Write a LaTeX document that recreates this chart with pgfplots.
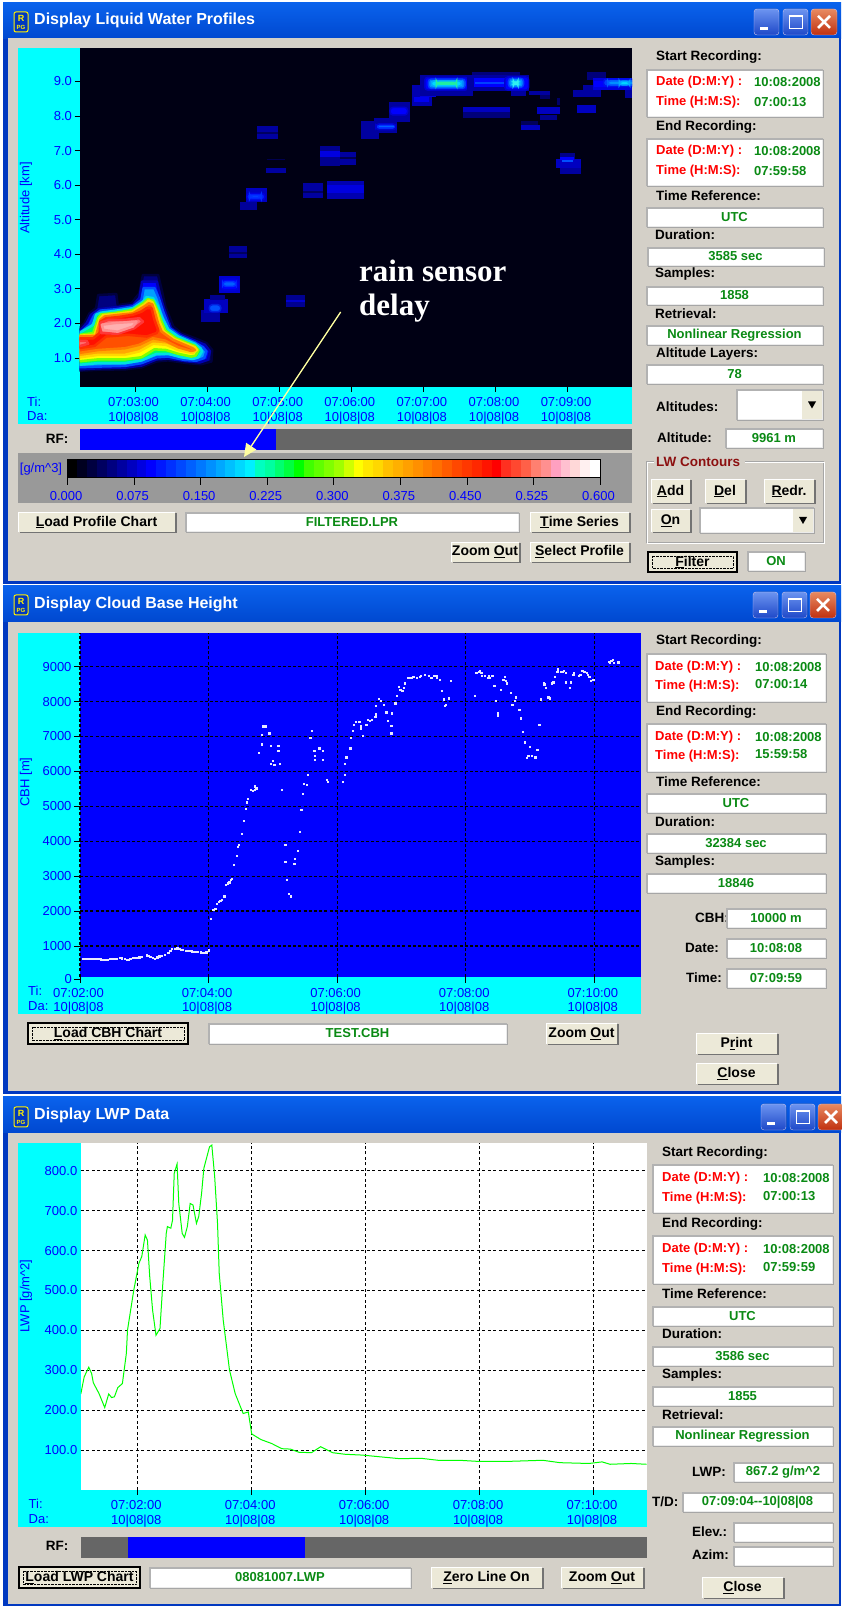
\documentclass[border=0pt]{standalone}
\usepackage{fontspec}
\setmainfont{Liberation Sans}
\newfontfamily\annfont{Liberation Serif}
\usepackage{xcolor}
\usepackage{pgfplots}
\pgfplotsset{compat=1.18}
\usetikzlibrary{arrows.meta}

\definecolor{gui}{HTML}{D4D0C8}
\definecolor{tblue}{HTML}{0000FF}
\definecolor{panel}{HTML}{00FFFF}
\definecolor{lblgreen}{HTML}{0A8A14}
\definecolor{plotbg}{HTML}{000014}
\definecolor{btn}{HTML}{ECE9D8}
\definecolor{lwline}{HTML}{00FF00}
\definecolor{ttop}{HTML}{0A62EC}
\definecolor{tbot}{HTML}{0048D0}
\definecolor{tedge}{HTML}{0038C0}
\definecolor{tbl}{HTML}{6C94F0}
\definecolor{tbd}{HTML}{1E48C8}
\definecolor{tcl}{HTML}{E88A60}
\definecolor{tcd}{HTML}{C03010}
\definecolor{arrowy}{HTML}{FFFFA0}
\definecolor{darkred}{HTML}{8C1010}
\definecolor{dotc}{HTML}{E8E8FF}

\newcommand{\fa}{\fontsize{13}{14.5}\selectfont}
\newcommand{\fb}{\fontsize{13.5}{15}\selectfont\bfseries}
\newcommand{\fc}{\fontsize{13}{15}\selectfont\bfseries}
\newcommand{\fd}{\fontsize{14}{16}\selectfont\bfseries}

% gui pieces, all in pixel coordinates
\newcommand{\hd}[3]{\node[anchor=west,inner sep=0pt,font=\fb] at (#1,#2) {#3};}
\newcommand{\red}[3]{\node[anchor=west,inner sep=0pt,font=\fc,text=red] at (#1,#2) {#3};}
\newcommand{\grn}[3]{\node[anchor=west,inner sep=0pt,font=\fc,text=lblgreen] at (#1,#2) {#3};}
\newcommand{\field}[5]{%
  \fill[black!35] (#1+1,#2+1) rectangle (#3+1,#4+1);
  \fill[black!8] (#1,#2) rectangle (#3,#4);
  \fill[black!30] (#1,#2) rectangle (#3,#2+2);
  \fill[black!30] (#1,#2) rectangle (#1+2,#4);
  \fill[white] (#1+2,#2+2) rectangle (#3-1,#4-1);
  \node[font=\fc,text=lblgreen,inner sep=0pt] at ({(#1+#3)/2},{(#2+#4)/2}) {#5};}
\newcommand{\button}[5]{%
  \fill[black!55] (#1+1.5,#2+1.5) rectangle (#3+1.5,#4+1.5);
  \fill[btn] (#1,#2) rectangle (#3,#4);
  \draw[white] (#1,#4) -- (#1,#2) -- (#3,#2);
  \node[font=\fd,inner sep=0pt] at ({(#1+#3)/2},{(#2+#4)/2}) {#5};}
\newcommand{\fbutton}[5]{%
  \fill[btn] (#1,#2) rectangle (#3,#4);
  \draw[black,line width=1.5pt] (#1,#2) rectangle (#3,#4);
  \draw[black,densely dotted] (#1+4,#2+4) rectangle (#3-4,#4-4);
  \node[font=\fd,inner sep=0pt] at ({(#1+#3)/2},{(#2+#4)/2}) {#5};}
\newcommand{\combo}[4]{%
  \field{#1}{#2}{#3}{#4}{}
  \fill[btn] (#3-21,#2+2) rectangle (#3-1,#4-1);
  \fill[black] (#3-15,{(#2+#4)/2-3}) -- (#3-7,{(#2+#4)/2-3}) -- (#3-11,{(#2+#4)/2+4}) -- cycle;}
\newcommand{\icon}[2]{%
  \fill[rounded corners=2pt,tedge,draw=yellow,line width=1pt] (#1,#2) rectangle (#1+14,#2+20);
  \node[text=yellow,font=\fontsize{9}{9}\selectfont\bfseries,inner sep=0pt] at (#1+7,#2+6.5) {R};
  \node[text=yellow,font=\fontsize{6}{6}\selectfont\bfseries,inner sep=0pt] at (#1+7,#2+15.5) {PG};}
\newcommand{\tbtns}[2]{%
  \fill[rounded corners=3pt,top color=tbl,bottom color=tbd,draw=white!80!blue] (#1,#2) rectangle (#1+25,#2+26);
  \fill[white] (#1+6,#2+18) rectangle (#1+14,#2+21);
  \fill[rounded corners=3pt,top color=tbl,bottom color=tbd,draw=white!80!blue] (#1+29,#2) rectangle (#1+54,#2+26);
  \draw[white,line width=1pt] (#1+35,#2+7) rectangle (#1+48,#2+20);
  \draw[white,line width=2pt] (#1+35,#2+7) -- (#1+48,#2+7);
  \fill[rounded corners=3pt,top color=tcl,bottom color=tcd,draw=white!80!blue] (#1+57,#2) rectangle (#1+83,#2+26);
  \draw[white,line width=2.5pt] (#1+64,#2+7) -- (#1+76,#2+19) (#1+76,#2+7) -- (#1+64,#2+19);}
\newcommand{\win}[4]{% y0 y1 titlebottom title
  \fill[tedge] (3,#1) rectangle (841,#2);
  \fill[top color=ttop,bottom color=tbot] (3,#1) rectangle (841,#3);
  \fill[gui] (8,#3) rectangle (839,#2-2.5);
  \node[anchor=west,text=white,inner sep=0pt,font=\fontsize{16}{18}\selectfont\bfseries] at (34,{(#1+#3)/2}) {#4};}

% values in data units, one rectangle or outline per call
\newcommand{\defhex}[1]{\globalcolorstrue\definecolor{c#1}{HTML}{#1}\globalcolorsfalse}
\newcommand{\cell}[5]{\defhex{#1}\addplot[forget plot,draw=none,fill=c#1] coordinates {(#2,#4)(#3,#4)(#3,#5)(#2,#5)} -- cycle;}
\newcommand{\rcell}[6]{\defhex{#1}\defhex{#2}\addplot[forget plot,draw=c#2,line width=1.5pt,rounded corners=3pt,fill=c#1] coordinates {(#3,#5)(#4,#5)(#4,#6)(#3,#6)} -- cycle;}
\newcommand{\blob}[3]{\defhex{#1}\defhex{#2}\addplot[forget plot,draw=c#2,line width=2.5pt,line join=round,fill=c#1] coordinates {#3} -- cycle;}
\newcommand{\cb}[3]{\cell{#1}{#2}{#3}{0}{1}}

\pgfplotsset{ui/.style={
  scale only axis, anchor=south west,
  axis line style={draw=none},
  tick style={black,line width=0.8pt},
  major tick length=5pt, tick align=outside,
  xtick pos=bottom, ytick pos=left,
  tick label style={font=\fa,text=tblue,/pgf/number format/assume math mode=true},
  xticklabel style={align=center,yshift=-2pt,xshift=-1.5pt},
  yticklabel style={xshift=1pt},
}}

\begin{document}
\begin{tikzpicture}[x=1pt,y=1pt]
\useasboundingbox (0,0) rectangle (841,1606);
\fill[white] (0,0) rectangle (841,1606);

\begin{scope}[x=1pt,y=-1pt,yshift=1606pt]
\win{3}{584}{38.5}{Display Liquid Water Profiles}
\win{586}{1094}{622}{Display Cloud Base Height}
\win{1097}{1606.5}{1133}{Display LWP Data}
\icon{14}{12}\icon{14}{595}\icon{14}{1107}
\tbtns{754}{9}\tbtns{753}{592}\tbtns{761}{1104}

\fill[panel] (18,48.3) rectangle (632,424);
\fill[panel] (18,632.7) rectangle (640.6,1014);
\fill[panel] (18,1143.3) rectangle (646.5,1527.3);
\fill[black!40] (18,453) rectangle (632,503);

% window 1 right panel
\hd{656}{57}{Start Recording:}
\field{646}{69}{823}{117}{}
\red{656}{82}{Date (D:M:Y) :}\grn{754}{82}{10:08:2008}
\red{656}{102}{Time (H:M:S):}\grn{754}{102}{07:00:13}
\hd{656}{127}{End Recording:}
\field{646}{138}{823}{186}{}
\red{656}{151}{Date (D:M:Y) :}\grn{754}{151}{10:08:2008}
\red{656}{171}{Time (H:M:S):}\grn{754}{171}{07:59:58}
\hd{656}{196}{Time Reference:}\field{646}{207}{823}{227}{UTC}
\hd{655}{235}{Duration:}\field{647}{247}{824}{266}{3585 sec}
\hd{655}{274}{Samples:}\field{646}{286}{823}{305}{1858}
\hd{655}{314}{Retrieval:}\field{646}{325}{823}{345}{Nonlinear Regression}
\hd{656}{354}{Altitude Layers:}\field{646}{364}{823}{384}{78}
\hd{656}{407}{Altitudes:}\combo{736}{389}{823}{420}
\hd{657}{438}{Altitude:}\field{725}{428}{823}{448}{9961 m}
\draw[black!35] (646.5,461) rectangle (823.5,542);
\draw[white] (647.5,462) rectangle (824.5,543);
\fill[gui] (654,455) rectangle (745,468);
\node[anchor=west,inner sep=0pt,font=\fb,text=darkred] at (656,462) {LW Contours};
\button{651}{479}{690}{503}{\underline{A}dd}
\button{705}{479}{745}{503}{\underline{D}el}
\button{764}{479}{814}{503}{\underline{R}edr.}
\button{651}{509}{690}{532}{\underline{O}n}
\combo{699}{507}{814}{533}
\fbutton{648}{552}{737}{572}{\underline{F}ilter}
\field{747}{551}{805}{571}{ON}
% window 1 lower row
\node[font=\fb,inner sep=0pt] at (57,439) {RF:};
\node[font=\fa,text=tblue,inner sep=0pt] at (41,469) {[g/m\^{}3]};
\button{18}{512}{175}{532}{\underline{L}oad Profile Chart}
\field{185}{512}{519}{532}{FILTERED.LPR}
\button{530}{512}{629}{532}{\underline{T}ime Series}
\button{451}{542}{519}{562}{Zoom \underline{O}ut}
\button{530}{542}{629}{562}{\underline{S}elect Profile}

% window 2 right panel
\hd{656}{641}{Start Recording:}
\field{646}{653}{826}{702}{}
\red{655}{667}{Date (D:M:Y) :}\grn{755}{667}{10:08:2008}
\red{655}{686}{Time (H:M:S):}\grn{755}{684}{07:00:14}
\hd{656}{712}{End Recording:}
\field{646}{723}{826}{772}{}
\red{655}{737}{Date (D:M:Y) :}\grn{755}{737}{10:08:2008}
\red{655}{756}{Time (H:M:S):}\grn{755}{754}{15:59:58}
\hd{656}{782}{Time Reference:}\field{646}{793}{826}{813}{UTC}
\hd{655}{822}{Duration:}\field{646}{833}{826}{853}{32384 sec}
\hd{655}{862}{Samples:}\field{646}{873}{826}{893}{18846}
\hd{695}{918}{CBH:}\field{726}{908}{826}{928}{10000 m}
\hd{685}{948}{Date:}\field{726}{938}{826}{958}{10:08:08}
\hd{686}{978}{Time:}\field{726}{968}{826}{988}{07:09:59}
\button{696}{1033}{777}{1054}{P\underline{r}int}
\button{696}{1063}{777}{1084}{\underline{C}lose}
\fbutton{28}{1023}{188}{1044}{\underline{L}oad CBH Chart}
\field{208}{1023}{507}{1044}{TEST.CBH}
\button{546}{1023}{617}{1044}{Zoom \underline{O}ut}

% window 3 right panel
\hd{662}{1153}{Start Recording:}
\field{652}{1164}{833}{1213}{}
\red{662}{1178}{Date (D:M:Y) :}\grn{763}{1178}{10:08:2008}
\red{662}{1198}{Time (H:M:S):}\grn{763}{1196}{07:00:13}
\hd{662}{1224}{End Recording:}
\field{652}{1235}{833}{1284}{}
\red{662}{1249}{Date (D:M:Y) :}\grn{763}{1249}{10:08:2008}
\red{662}{1269}{Time (H:M:S):}\grn{763}{1267}{07:59:59}
\hd{662}{1294}{Time Reference:}\field{652}{1306}{833}{1326}{UTC}
\hd{662}{1334}{Duration:}\field{652}{1346}{833}{1366}{3586 sec}
\hd{662}{1375}{Samples:}\field{652}{1386}{833}{1406}{1855}
\hd{662}{1415}{Retrieval:}\field{652}{1426}{833}{1446}{Nonlinear Regression}
\hd{692}{1472}{LWP:}\field{733}{1462}{833}{1482}{867.2 g/m\^{}2}
\hd{652}{1502}{T/D:}\field{682}{1492}{833}{1512}{07:09:04-{}-10|08|08}
\hd{692}{1532}{Elev.:}\field{733}{1522}{833}{1542}{}
\hd{692}{1555}{Azim:}\field{733}{1546}{833}{1566}{}
\button{702}{1577}{783}{1598}{\underline{C}lose}
\node[font=\fb,inner sep=0pt] at (57,1546) {RF:};
\fbutton{19}{1567}{140}{1588}{\underline{L}oad LWP Chart}
\field{149}{1567}{411}{1588}{08081007.LWP}
\button{431}{1567}{542}{1588}{\underline{Z}ero Line On}
\button{561}{1567}{643}{1588}{Zoom \underline{O}ut}
\end{scope}

% liquid water profile heat map
\begin{axis}[ui, at={(79.5pt,1219pt)}, width=552.5pt, height=338.7pt,
  xmin=2.23, xmax=9.894, ymin=0.16, ymax=9.96,
  axis background/.style={fill=plotbg},
  xtick={3,4,5,6,7,8,9},
  xticklabels={{07:03:00\\10|08|08},{07:04:00\\10|08|08},{07:05:00\\10|08|08},{07:06:00\\10|08|08},{07:07:00\\10|08|08},{07:08:00\\10|08|08},{07:09:00\\10|08|08}},
  ytick={1,2,3,4,5,6,7,8,9},
  yticklabel style={/pgf/number format/fixed,/pgf/number format/fixed zerofill,/pgf/number format/precision=1},
]
\blob{000080}{000040}{(2.21,1.81)(2.30,2.01)(2.37,2.29)(2.46,2.44)(2.49,2.82)(2.74,2.85)(2.76,2.53)(2.95,2.58)(3.06,2.87)(3.11,3.40)(3.32,3.40)(3.37,2.97)(3.42,2.49)(3.53,1.91)(3.64,1.72)(3.83,1.57)(3.99,1.43)(4.07,1.23)(4.06,0.90)(3.92,0.82)(3.73,0.85)(3.46,0.93)(3.30,0.90)(3.09,0.73)(2.86,0.67)(2.49,0.66)(2.21,0.63)}
\blob{0000FF}{0000B0}{(2.21,1.72)(2.33,2.01)(2.39,2.25)(2.50,2.41)(2.74,2.47)(2.97,2.53)(3.06,2.73)(3.10,3.21)(3.30,3.21)(3.34,2.87)(3.40,2.44)(3.50,1.86)(3.64,1.67)(3.83,1.50)(3.97,1.38)(4.04,1.19)(4.01,0.95)(3.90,0.87)(3.73,0.90)(3.46,0.98)(3.30,0.96)(3.09,0.78)(2.86,0.72)(2.49,0.70)(2.21,0.67)}
\blob{00A0FF}{0050FF}{(2.21,1.69)(2.37,1.96)(2.44,2.25)(2.52,2.37)(2.74,2.41)(2.97,2.49)(3.09,2.68)(3.12,3.02)(3.27,3.02)(3.33,2.73)(3.39,2.34)(3.48,1.86)(3.62,1.64)(3.83,1.45)(3.94,1.31)(3.99,1.19)(3.96,1.00)(3.85,0.92)(3.69,0.94)(3.46,1.04)(3.30,1.02)(3.09,0.85)(2.86,0.77)(2.49,0.75)(2.21,0.73)}
\blob{00FF60}{00E0E0}{(2.21,1.70)(2.42,1.96)(2.46,2.25)(2.53,2.31)(2.74,2.37)(2.97,2.44)(3.11,2.63)(3.16,2.76)(3.25,2.73)(3.32,2.49)(3.37,2.20)(3.46,1.83)(3.60,1.62)(3.83,1.41)(3.91,1.28)(3.93,1.19)(3.88,1.02)(3.80,0.97)(3.64,1.02)(3.46,1.12)(3.30,1.12)(3.09,0.93)(2.86,0.85)(2.49,0.85)(2.21,0.80)}
\blob{FFFF00}{80FF00}{(2.21,1.66)(2.42,1.72)(2.49,2.15)(2.53,2.26)(2.74,2.31)(2.97,2.39)(3.11,2.58)(3.18,2.70)(3.25,2.66)(3.31,2.39)(3.36,2.10)(3.42,1.79)(3.57,1.57)(3.83,1.35)(3.88,1.23)(3.84,1.07)(3.78,1.04)(3.60,1.12)(3.43,1.23)(3.27,1.25)(3.09,1.02)(2.86,0.96)(2.49,0.96)(2.21,0.90)}
\blob{FFA800}{FFD800}{(2.21,1.64)(2.44,1.67)(2.51,2.12)(2.56,2.24)(2.74,2.27)(2.97,2.34)(3.12,2.53)(3.19,2.66)(3.24,2.61)(3.30,2.34)(3.34,2.05)(3.40,1.76)(3.55,1.54)(3.83,1.31)(3.86,1.23)(3.80,1.14)(3.60,1.23)(3.43,1.38)(3.25,1.41)(3.06,1.19)(2.86,1.09)(2.49,1.09)(2.21,1.01)}
\blob{FF5000}{FF7C00}{(2.21,1.62)(2.46,1.64)(2.52,2.10)(2.58,2.20)(2.74,2.24)(2.97,2.29)(3.13,2.49)(3.19,2.58)(3.24,2.55)(3.28,2.29)(3.32,2.00)(3.37,1.76)(3.53,1.52)(3.80,1.28)(3.83,1.23)(3.78,1.20)(3.60,1.31)(3.42,1.50)(3.25,1.57)(3.06,1.38)(2.86,1.28)(2.49,1.23)(2.21,1.14)}
\blob{FF1000}{FF3000}{(2.21,1.57)(2.42,1.57)(2.51,1.72)(2.52,2.05)(2.60,2.15)(2.76,2.18)(2.97,2.25)(3.09,2.34)(3.16,2.44)(3.23,2.44)(3.27,2.10)(3.32,1.81)(3.30,1.72)(3.16,1.62)(2.90,1.67)(2.60,1.62)(2.44,1.35)(2.21,1.28)}
\blob{FF7070}{FF3838}{(2.52,2.02)(2.63,2.10)(2.86,2.10)(3.06,2.15)(3.11,2.05)(2.99,1.86)(2.76,1.70)(2.53,1.72)}
\blob{FF7070}{FF3838}{(2.21,1.50)(2.33,1.49)(2.35,1.41)(2.21,1.33)}
\blob{FFB0B0}{FF9090}{(2.54,1.96)(2.72,2.01)(3.02,2.05)(2.97,1.91)(2.76,1.76)(2.56,1.81)}
% separate cloud layers
\cell{0000A0}{3.91}{4.18}{2.05}{2.39}
\cell{0000C0}{3.96}{4.29}{2.29}{2.70}
\cell{000090}{4.04}{4.25}{2.68}{2.82}
\rcell{0050FF}{0020E0}{4.03}{4.19}{2.34}{2.54}
\cell{0000D0}{4.16}{4.46}{2.87}{3.37}
\rcell{0000FF}{0000E0}{4.20}{4.43}{2.97}{3.28}
\rcell{0060FF}{0030FF}{4.22}{4.40}{3.07}{3.21}
\cell{00009A}{4.31}{4.56}{3.88}{4.24}
\cell{000060}{4.31}{4.56}{4.01}{4.07}
\cell{00009A}{4.45}{4.69}{5.28}{5.52}
\cell{0000C0}{4.54}{4.83}{5.52}{5.91}
\rcell{0020FF}{0000E0}{4.55}{4.80}{5.57}{5.76}
\rcell{0060FF}{0030FF}{4.59}{4.75}{5.64}{5.70}
\cell{0000A0}{4.69}{4.98}{7.34}{7.72}
\cell{000060}{4.69}{4.98}{7.49}{7.55}
\cell{0000A0}{4.82}{5.09}{6.36}{6.49}
\cell{000050}{4.83}{5.08}{6.74}{6.76}
\cell{000090}{5.09}{5.36}{2.47}{2.82}
\cell{0000D0}{5.09}{5.36}{2.62}{2.68}
\cell{0000A0}{5.33}{5.61}{5.64}{6.05}
\cell{000060}{5.33}{5.61}{5.77}{5.83}
\cell{0000B0}{5.67}{6.17}{5.60}{6.12}
\cell{0000E0}{5.67}{6.17}{5.78}{6.00}
\cell{000090}{5.57}{5.84}{6.56}{7.14}
\cell{0000E0}{5.57}{5.84}{6.82}{7.00}
\cell{0000A0}{5.84}{6.06}{6.58}{6.97}
\cell{000050}{5.84}{6.06}{6.75}{6.80}
\cell{0000A0}{6.13}{6.39}{7.34}{7.86}
\cell{0000A0}{6.32}{6.64}{7.50}{7.93}
\rcell{0030FF}{0000D0}{6.34}{6.62}{7.61}{7.77}
\cell{0060FF}{6.38}{6.59}{7.67}{7.72}
\cell{0000A0}{6.52}{6.82}{7.82}{8.41}
\rcell{0000FF}{0000D0}{6.54}{6.78}{8.03}{8.25}
\cell{0000B0}{6.84}{7.12}{8.29}{8.89}
\cell{0000F0}{6.87}{7.08}{8.41}{8.56}
\cell{0000E0}{6.96}{7.18}{8.54}{8.73}
\cell{0000A0}{6.96}{7.69}{8.58}{9.18}
\rcell{0000FF}{0000D0}{7.02}{7.62}{8.75}{9.12}
\rcell{0080FF}{0040FF}{7.07}{7.58}{8.80}{9.07}
\rcell{00D8FF}{00A8FF}{7.11}{7.53}{8.86}{9.02}
\rcell{80FF40}{20F0A0}{7.18}{7.46}{8.92}{8.97}
\cell{00007A}{7.67}{8.34}{9.18}{9.28}
\cell{0000A0}{7.60}{8.46}{8.73}{9.18}
\cell{0000FF}{7.70}{8.15}{8.85}{9.09}
\cell{0040FF}{7.72}{8.15}{8.94}{8.99}
\rcell{0000FF}{0000D0}{8.13}{8.46}{8.75}{9.13}
\rcell{0080FF}{0040FF}{8.18}{8.39}{8.83}{9.09}
\rcell{00D8FF}{00A8FF}{8.22}{8.35}{8.88}{9.03}
\rcell{80FFD0}{30F0F0}{8.25}{8.31}{8.92}{8.98}
\cell{0000A0}{8.21}{8.43}{8.59}{8.73}
\cell{0000A0}{7.41}{7.67}{8.58}{8.73}
\cell{0000C0}{7.55}{8.20}{8.12}{8.25}
\cell{00007A}{7.55}{8.20}{7.95}{8.12}
\cell{0000A0}{8.47}{8.76}{8.60}{8.73}
\cell{00006A}{8.62}{8.76}{8.49}{8.60}
\cell{00006A}{8.85}{8.89}{8.32}{8.51}
\cell{0000C0}{8.58}{8.89}{8.05}{8.27}
\cell{000090}{8.62}{8.85}{7.88}{8.03}
\cell{0000C0}{8.36}{8.62}{7.59}{7.74}
\cell{00005A}{8.36}{8.59}{7.74}{7.86}
\cell{0000C0}{8.84}{9.19}{6.51}{6.77}
\cell{0000A0}{8.89}{9.19}{6.32}{6.51}
\cell{00008A}{8.89}{9.10}{6.77}{6.92}
\cell{0000FF}{8.90}{9.09}{6.73}{6.82}
\cell{0050FF}{8.92}{9.08}{6.67}{6.73}
\cell{0000A0}{9.08}{9.47}{8.56}{8.75}
\cell{0000A0}{9.21}{9.40}{8.70}{8.89}
\cell{00007A}{9.27}{9.54}{9.04}{9.28}
\cell{0000E0}{9.35}{9.89}{8.75}{9.09}
\cell{0000FF}{9.36}{9.89}{8.85}{9.02}
\rcell{0040FF}{0010F0}{9.50}{9.95}{8.86}{9.07}
\rcell{0090FF}{0060FF}{9.56}{9.95}{8.90}{9.02}
\rcell{00D8FF}{00A8FF}{9.72}{9.86}{8.90}{9.00}
\cell{0000A0}{9.80}{9.89}{8.53}{8.75}
\cell{0000C0}{9.13}{9.40}{8.10}{8.32}
\end{axis}

% rf flag of the profile window
\begin{axis}[scale only axis,anchor=south west,at={(79.5pt,1156pt)},width=552.5pt,height=21pt,
  xmin=2.23,xmax=9.894,ymin=0,ymax=1,hide axis]
\cell{666666}{2.23}{9.894}{0}{1}
\cell{0000FF}{2.23}{4.96}{0}{1}
\end{axis}

% colour scale
\begin{axis}[ui, at={(67.6pt,1128pt)}, width=532.4pt, height=18.7pt,
  xmin=0, xmax=0.6, ymin=0, ymax=1, ytick=\empty,
  axis line style={draw=black,line width=1pt},
  major tick length=7pt,
  xtick={0,0.075,0.15,0.225,0.3,0.375,0.45,0.525,0.6},
  xticklabel style={/pgf/number format/fixed,/pgf/number format/fixed zerofill,/pgf/number format/precision=3,yshift=-1pt,xshift=0pt},
  axis on top,
]
\cb{000000}{0}{.0111}\cb{000020}{.0111}{.0222}\cb{000040}{.0222}{.0333}\cb{000060}{.0333}{.0444}
\cb{000080}{.0444}{.0556}\cb{0000A0}{.0556}{.0667}\cb{0000C0}{.0667}{.0778}\cb{0000E0}{.0778}{.0889}
\cb{0000FF}{.0889}{.1}\cb{0018FF}{.1}{.1111}\cb{0030FF}{.1111}{.1222}\cb{0048FF}{.1222}{.1333}
\cb{0060FF}{.1333}{.1444}\cb{0078FF}{.1444}{.1556}\cb{0090FF}{.1556}{.1667}\cb{00A8FF}{.1667}{.1778}
\cb{00C0FF}{.1778}{.1889}\cb{00D8FF}{.1889}{.2}\cb{00F0FF}{.2}{.2111}\cb{00FFC0}{.2111}{.2222}
\cb{00FFA0}{.2222}{.2333}\cb{00FF70}{.2333}{.2444}\cb{00FF40}{.2444}{.2556}\cb{00FF00}{.2556}{.2667}
\cb{40FF00}{.2667}{.2778}\cb{60FF00}{.2778}{.2889}\cb{80FF00}{.2889}{.3}\cb{A0FF00}{.3}{.3111}
\cb{D0FF00}{.3111}{.3222}\cb{FFFF00}{.3222}{.3333}\cb{FFE800}{.3333}{.3444}\cb{FFD800}{.3444}{.3556}
\cb{FFC000}{.3556}{.3667}\cb{FFB000}{.3667}{.3778}\cb{FFA000}{.3778}{.3889}\cb{FF9000}{.3889}{.4}
\cb{FF8000}{.4}{.4111}\cb{FF7000}{.4111}{.4222}\cb{FF5C00}{.4222}{.4333}\cb{FF4800}{.4333}{.4444}
\cb{FF3800}{.4444}{.4556}\cb{FF2800}{.4556}{.4667}\cb{FF1400}{.4667}{.4778}\cb{FF0000}{.4778}{.4889}
\cb{FF3020}{.4889}{.5}\cb{FF4830}{.5}{.5111}\cb{FF6048}{.5111}{.5222}\cb{FF8070}{.5222}{.5333}
\cb{FF9090}{.5333}{.5444}\cb{FFA0C0}{.5444}{.5556}\cb{FFC0D0}{.5556}{.5667}\cb{FFD8D8}{.5667}{.5778}
\cb{FFF0F0}{.5778}{.5889}\cb{FFFFFF}{.5889}{.6}
\end{axis}

% cloud base height
\begin{axis}[ui, at={(80pt,629.3pt)}, width=560.6pt, height=344pt,
  xmin=2, xmax=10.72, ymin=120, ymax=9974,
  axis background/.style={fill=tblue},
  grid=major,
  grid style={black,line width=1.2pt,dash pattern=on 3pt off 2.2pt},
  xtick={2,4,6,8,10},
  xticklabels={{07:02:00\\10|08|08},{07:04:00\\10|08|08},{07:06:00\\10|08|08},{07:08:00\\10|08|08},{07:10:00\\10|08|08}},
  ytick={1000,2000,3000,4000,5000,6000,7000,8000,9000},
  major tick length=6pt,
  yticklabel style={/pgf/number format/1000 sep={}},
]
\addplot[only marks,color=dotc,mark=square*,mark size=0.6pt,mark options={solid,draw=dotc,fill=dotc,line width=0.2pt}] coordinates {
(2.04,636)(2.07,636)(2.10,636)(2.13,640)(2.16,636)(2.20,640)(2.23,645)(2.26,640)(2.29,636)(2.32,625)(2.36,617)(2.39,620)(2.43,617)(2.46,630)(2.49,636)(2.52,640)(2.56,645)(2.61,665)
(2.65,650)(2.69,636)(2.72,620)(2.75,607)(2.78,640)(2.82,665)(2.85,670)(2.88,674)(2.92,680)(2.95,693)(3.03,741)(3.06,715)(3.09,693)(3.13,660)(3.16,636)(3.20,680)(3.23,712)(3.27,735)(3.31,760)(3.37,808)(3.40,860)(3.43,922)(3.47,930)(3.51,941)
(3.54,920)(3.57,903)(3.60,890)(3.64,875)(3.67,870)(3.70,865)(3.74,855)(3.77,846)(3.80,840)(3.83,836)(3.87,825)(3.90,817)(3.93,820)(3.96,827)(4.00,884)
(4.03,1790)(4.07,2040)(4.10,2080)(4.13,2220)(4.16,2260)(4.18,2300)(4.20,2330)(4.24,2430)(4.26,2760)(4.30,2800)(4.32,2830)(4.34,2900)(4.36,2940)(4.39,3330)(4.44,3590)(4.45,3840)(4.47,3900)(4.51,4230)(4.55,4580)(4.57,4940)(4.59,5120)(4.61,5230)(4.65,5480)(4.69,5450)(4.71,5480)(4.71,5580)(4.74,5520)
(4.78,6530)(4.82,6780)(4.82,7050)(4.84,7300)(4.88,7300)(4.94,7100)(4.96,6740)(4.96,6230)(5.00,6310)(5.02,6190)(5.08,6740)(5.08,6600)(5.10,6230)(5.13,5480)(5.19,3900)(5.19,3410)(5.21,2900)(5.25,2510)(5.27,2430)(5.33,3370)(5.34,3510)(5.39,3730)(5.41,4270)(5.44,4910)(5.46,5370)(5.48,5660)(5.52,5620)(5.54,5910)(5.58,6960)(5.60,7170)
(5.64,6600)(5.65,6450)(5.65,6350)(5.71,6670)(5.73,6670)(5.77,6600)(5.77,6350)(5.83,5760)(5.85,5700)(6.09,5700)(6.11,5910)(6.12,6230)(6.14,6410)(6.20,6670)(6.21,6960)(6.24,7170)(6.26,7340)(6.29,7420)(6.34,7420)(6.36,7310)(6.37,7240)(6.40,7020)(6.45,7340)(6.47,7480)(6.51,7450)(6.53,7480)(6.59,7560)(6.60,7880)(6.60,7640)(6.65,8090)(6.67,8030)(6.72,7920)(6.76,7700)(6.78,7450)(6.84,7310)(6.84,7100)(6.85,7670)(6.90,7960)(6.92,8170)(6.96,8420)(6.98,8350)(7.01,8310)(7.03,8390)(7.05,8530)(7.09,8680)(7.11,8680)
(7.15,8680)(7.18,8710)(7.23,8680)(7.28,8710)(7.30,8740)(7.36,8780)(7.42,8740)(7.46,8680)(7.50,8740)(7.54,8740)(7.55,8680)(7.59,8640)(7.63,8310)(7.65,8070)(7.67,7880)(7.69,7920)(7.73,8100)(7.77,8600)
(8.14,8170)(8.16,8820)(8.20,8850)(8.22,8890)(8.24,8820)(8.25,8740)(8.29,8740)(8.34,8680)(8.37,8680)(8.35,8740)(8.41,8740)(8.44,8460)(8.46,8030)(8.49,7670)(8.50,7600)(8.54,8350)(8.58,8640)(8.60,8710)(8.62,8600)(8.64,8530)(8.70,8250)(8.72,7920)(8.76,8030)(8.78,8130)(8.83,7780)(8.85,7530)(8.89,7130)(8.91,6840)(8.95,6390)(8.97,6450)(8.99,6700)(9.03,6450)(9.07,6410)(9.09,6410)(9.11,6630)(9.14,7350)(9.16,8070)(9.21,8530)(9.22,8500)(9.24,8390)(9.28,8130)(9.30,8100)(9.34,8530)(9.36,8560)(9.38,8710)(9.42,8850)(9.43,8930)(9.48,8850)(9.50,8850)(9.52,8890)(9.55,8820)(9.55,8560)(9.61,8390)(9.63,8560)(9.67,8780)(9.68,8820)(9.75,8740)(9.78,8770)(9.81,8890)(9.84,8850)(9.88,8820)(9.90,8780)(9.92,8710)(9.94,8600)(9.98,8640)
(10.23,9140)(10.26,9170)(10.28,9210)(10.24,9110)(10.30,9110)(10.37,9140)(10.37,9110)};
\end{axis}

% liquid water path
\begin{axis}[ui, at={(80.8pt,116pt)}, width=565.7pt, height=346.7pt,
  xmin=1, xmax=10.93, ymin=0.6, ymax=868.6,
  axis background/.style={fill=white},
  grid=major,
  grid style={black,line width=1.2pt,dash pattern=on 3pt off 2.5pt},
  xtick={2,4,6,8,10},
  xticklabels={{07:02:00\\10|08|08},{07:04:00\\10|08|08},{07:06:00\\10|08|08},{07:08:00\\10|08|08},{07:10:00\\10|08|08}},
  ytick={100,200,300,400,500,600,700,800},
  ytick style={draw=none}, major tick length=5pt,
  yticklabel style={/pgf/number format/fixed,/pgf/number format/fixed zerofill,/pgf/number format/precision=1,xshift=4pt},
]
\addplot[lwline,line width=1pt] coordinates {
(1.00,241)(1.06,284)(1.14,308)(1.19,292)(1.22,269)(1.32,242)(1.42,207)(1.49,241)(1.54,232)(1.59,234)(1.65,257)(1.73,267)(1.80,343)(1.82,401)(1.93,501)(2.02,568)(2.07,585)(2.13,639)(2.17,626)(2.21,535)(2.26,451)(2.32,388)(2.39,405)(2.44,518)(2.50,643)(2.52,660)(2.58,656)(2.61,676)(2.64,793)(2.69,817)(2.72,718)(2.78,643)(2.82,633)(2.87,660)(2.92,718)(2.97,714)(3.03,668)(3.07,685)(3.12,743)(3.16,806)(3.26,860)(3.30,864)(3.35,785)(3.40,668)(3.43,543)(3.50,426)(3.61,301)(3.71,242)(3.85,192)(3.94,196)(4.00,141)(4.16,127)(4.35,117)(4.53,104)(4.68,103)(4.83,95)(5.05,94)(5.21,109)(5.42,94)(5.64,90)(5.94,88)(6.23,84)(6.60,79)(6.97,80)(7.27,75)(7.64,75)(8.00,72)(8.45,72)(9.11,75)(9.41,69)(9.92,67)(10.15,71)(10.29,65)(10.66,67)(10.93,65)};
\end{axis}

% rf flag of the lwp window
\begin{axis}[scale only axis,anchor=south west,at={(80.8pt,47.7pt)},width=566pt,height=21.6pt,
  xmin=1,xmax=10.93,ymin=0,ymax=1,hide axis]
\cell{666666}{1}{10.93}{0}{1}
\cell{0000FF}{1.82}{4.94}{0}{1}
\end{axis}

\begin{scope}[x=1pt,y=-1pt,yshift=1606pt]
% side texts on the cyan panels
\node[rotate=90,font=\fa,text=tblue,inner sep=0pt] at (26,198) {Altitude [km]};
\node[anchor=west,font=\fa,text=tblue,inner sep=0pt] at (27,402) {Ti:};
\node[anchor=west,font=\fa,text=tblue,inner sep=0pt] at (27,416) {Da:};
\node[rotate=90,font=\fa,text=tblue,inner sep=0pt] at (26,782) {CBH [m]};
\node[anchor=west,font=\fa,text=tblue,inner sep=0pt] at (28,991) {Ti:};
\node[anchor=west,font=\fa,text=tblue,inner sep=0pt] at (28,1006) {Da:};
\node[anchor=east,font=\fa,text=tblue,inner sep=0pt] at (72,979) {0};
\draw[black,line width=0.8pt] (74,979) -- (80,979);
\node[rotate=90,font=\fa,text=tblue,inner sep=0pt] at (26,1296) {LWP [g/m\^{}2]};
\node[anchor=west,font=\fa,text=tblue,inner sep=0pt] at (28.5,1504) {Ti:};
\node[anchor=west,font=\fa,text=tblue,inner sep=0pt] at (28.5,1519) {Da:};
% annotation
\node[anchor=west,inner sep=0pt,text=white,font=\annfont\fontsize{31}{33}\selectfont\bfseries] at (359,271) {rain sensor};
\node[anchor=west,inner sep=0pt,text=white,font=\annfont\fontsize{31}{33}\selectfont\bfseries] at (359,308) {delay};
\draw[-{Triangle[length=13pt,width=12pt]},draw=arrowy,fill=arrowy,line width=1.3pt] (340.7,312) -- (244,457);
\end{scope}
\end{tikzpicture}
\end{document}
